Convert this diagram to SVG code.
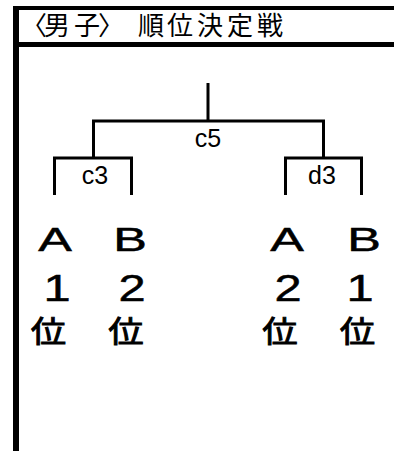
<svg xmlns="http://www.w3.org/2000/svg" width="394" height="451" viewBox="0 0 394 451">
<style>
.ln{stroke:#000;stroke-width:3;fill:none;stroke-linecap:butt}
.lbl{font-family:"Liberation Sans","Noto Sans CJK JP",sans-serif;font-size:25px;fill:#000;text-anchor:middle}
.ab{font-family:"Liberation Sans","Noto Sans CJK JP",sans-serif;font-size:32.5px;fill:#000;stroke:#000;stroke-width:0.5;text-anchor:middle}
.num{font-family:"Liberation Sans","Noto Sans CJK JP",sans-serif;font-size:37.5px;fill:#000;stroke:#000;stroke-width:0.5;text-anchor:middle}
.kan{font-family:"Noto Sans CJK JP",sans-serif;font-size:30px;fill:#000;stroke:#000;stroke-width:0.9;text-anchor:middle}
.ttl{font-family:"Noto Sans CJK JP",sans-serif;font-size:26px;fill:#000}
</style>
<rect width="394" height="451" fill="#fff"/>
<g id="frame">
<rect x="13" y="6" width="6" height="445" fill="#000"/>
<rect x="13" y="6" width="381" height="4" fill="#000"/>
<rect x="13" y="42" width="381" height="5" fill="#000"/>
<text class="ttl" x="21 44 74 98 138 167 197 227 257" y="35">〈男子〉順位決定戦</text>
</g>
<g id="connectors">
<path class="ln" d="M208,83 V121 M92,121 H325 M93.5,120 V158 M323.5,120 V158"/>
<path class="ln" d="M53,158 H133 M54.5,157 V195 M131.5,157 V195"/>
<path class="ln" d="M284,158 H363 M285.5,157 V195 M361.5,157 V195"/>
</g>
<g id="c5"><text class="lbl" x="208" y="147">c5</text></g>
<g id="c3"><text class="lbl" x="95" y="184">c3</text></g>
<g id="d3"><text class="lbl" x="322" y="184">d3</text></g>
<g id="A1">
<text class="ab" transform="translate(55,251) scale(1.55,1)">A</text>
<text class="num" transform="translate(57,301) scale(1.3,1)">1</text>
<text class="kan" transform="translate(48.5,342) scale(1.18,1)">位</text>
</g>
<g id="B2">
<text class="ab" transform="translate(130,251) scale(1.55,1)">B</text>
<text class="num" transform="translate(132,301) scale(1.3,1)">2</text>
<text class="kan" transform="translate(126,342) scale(1.18,1)">位</text>
</g>
<g id="A2">
<text class="ab" transform="translate(287,251) scale(1.55,1)">A</text>
<text class="num" transform="translate(288,301) scale(1.3,1)">2</text>
<text class="kan" transform="translate(280,342) scale(1.18,1)">位</text>
</g>
<g id="B1">
<text class="ab" transform="translate(364,251) scale(1.55,1)">B</text>
<text class="num" transform="translate(360,301) scale(1.3,1)">1</text>
<text class="kan" transform="translate(357.5,342) scale(1.18,1)">位</text>
</g>
</svg>
